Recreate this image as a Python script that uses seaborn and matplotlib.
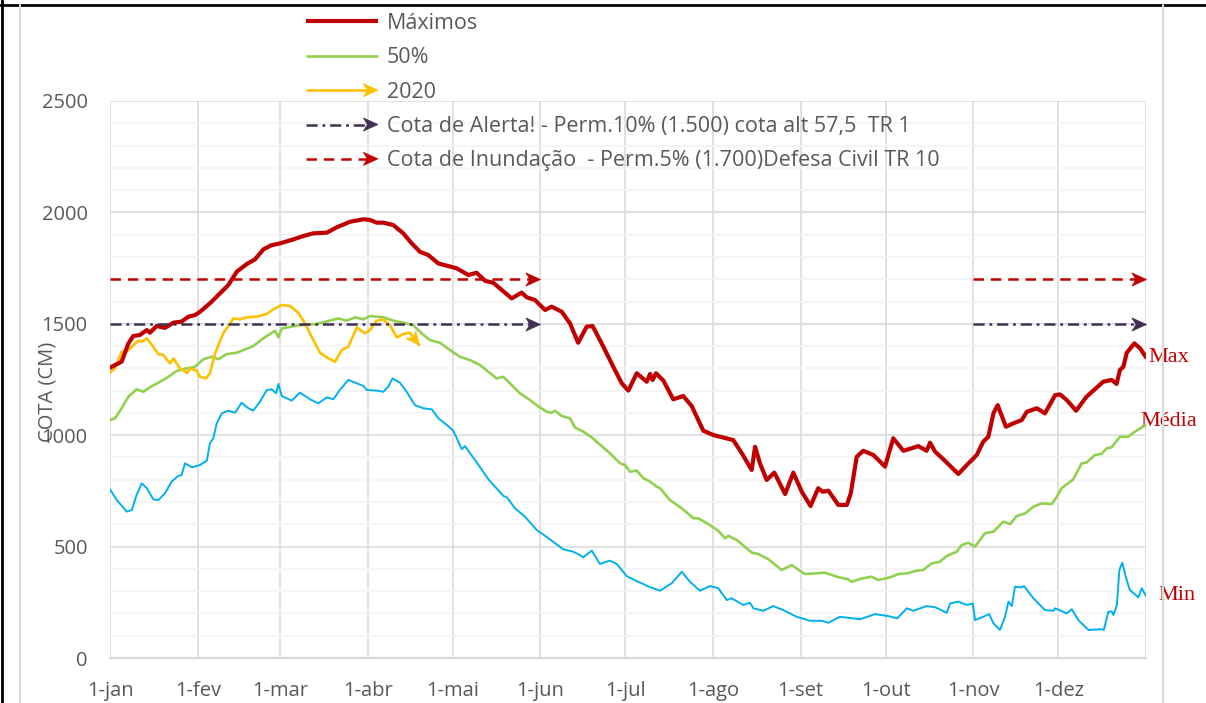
import numpy as np
import pandas as pd
import matplotlib
matplotlib.use("Agg")
import matplotlib.pyplot as plt
import seaborn as sns
from matplotlib.lines import Line2D
from matplotlib.path import Path
from matplotlib.markers import MarkerStyle
from matplotlib.transforms import Affine2D
from matplotlib.legend_handler import HandlerBase
from matplotlib.patches import Polygon

# ---------------- data ----------------
month_labels = ['1-jan', '1-fev', '1-mar', '1-abr', '1-mai', '1-jun',
                '1-jul', '1-ago', '1-set', '1-out', '1-nov', '1-dez']
month_days = [0, 31, 60, 91, 121, 152, 182, 213, 244, 274, 305, 335]
year_end = 366

max_days = [0, 4.1, 6.5, 8.2, 10.6, 13.0, 14.1, 16.5, 19.4, 22.4,
            25.3, 27.7, 30.0, 31.8, 35.3, 38.9, 41.8, 44.8, 48.3, 51.2,
            54.2, 57.1, 60.1, 64.8, 68.3, 71.8, 76.6, 80.1, 84.8, 89.5,
            91.9, 94.2, 96.6, 100.1, 103.6, 106.6, 109.5, 112.4, 116.0, 119.5,
            122.5, 126.6, 129.5, 132.5, 135.4, 138.4, 141.9, 145.4, 147.2, 150.1,
            153.7, 156.0, 159.6, 162.5, 165.4, 168.4, 170.5, 174.3, 177.8, 180.8,
            183.1, 186.1, 187.2, 189.6, 190.8, 191.7, 192.9, 195.5, 199.0, 202.5,
            205.5, 209.6, 213.1, 220.2, 223.2, 226.7, 227.9, 229.6, 232.0, 234.7,
            238.5, 241.4, 244.4, 247.5, 250.2, 251.8, 253.8, 257.3, 260.3, 261.7,
            263.8, 266.1, 269.7, 273.8, 276.7, 280.3, 285.6, 288.5, 289.7, 291.5,
            294.4, 299.7, 302.7, 306.2, 308.5, 310.3, 312.1, 313.6, 316.5, 319.1,
            322.1, 323.9, 327.4, 330.3, 333.9, 335.6, 338.0, 341.3, 345.0, 350.9,
            353.9, 355.6, 356.8, 358.0, 359.2, 361.9, 363.9, 366.0]
max_vals = [1303, 1330, 1412, 1445, 1450, 1472, 1460, 1490, 1482, 1505,
            1510, 1532, 1539, 1554, 1592, 1637, 1674, 1734, 1768, 1789,
            1834, 1853, 1861, 1879, 1894, 1906, 1909, 1933, 1958, 1969,
            1966, 1954, 1954, 1943, 1906, 1861, 1823, 1809, 1771, 1759,
            1749, 1719, 1729, 1693, 1684, 1652, 1614, 1640, 1619, 1607,
            1562, 1577, 1554, 1502, 1415, 1487, 1490, 1397, 1307, 1233,
            1200, 1278, 1266, 1240, 1275, 1248, 1278, 1245, 1161, 1176,
            1131, 1020, 1001, 978, 919, 844, 948, 874, 799, 832,
            736, 832, 746, 682, 762, 746, 751, 687, 687, 739,
            903, 930, 911, 859, 986, 930, 951, 930, 966, 926,
            892, 826, 866, 911, 971, 993, 1098, 1135, 1038, 1053,
            1068, 1105, 1121, 1098, 1180, 1183, 1158, 1110, 1173, 1240,
            1248, 1230, 1293, 1307, 1370, 1412, 1390, 1350]

p50_days = [0, 1.8, 4.1, 6.5, 9.4, 11.8, 14.1, 17.7, 20.6, 23.6,
            27.1, 30.0, 33.0, 35.9, 38.3, 41.2, 44.8, 50.6, 54.2, 58.3,
            59.5, 60.7, 67.1, 73.0, 80.7, 83.6, 86.6, 89.5, 91.9, 96.6,
            100.1, 103.6, 107.1, 110.1, 113.0, 116.6, 120.1, 123.6, 127.2, 130.7,
            133.6, 136.6, 138.9, 141.3, 144.8, 148.4, 150.7, 154.3, 156.0, 157.2,
            159.6, 162.5, 164.3, 167.2, 170.2, 173.7, 176.6, 180.2, 181.9, 183.7,
            186.1, 188.4, 190.8, 193.1, 194.3, 197.8, 202.0, 206.1, 207.8, 211.4,
            214.9, 217.3, 218.4, 221.4, 226.7, 229.0, 232.6, 237.3, 240.8, 245.5,
            249.7, 252.6, 256.7, 260.8, 262.0, 265.6, 269.1, 271.4, 275.6, 278.5,
            281.5, 285.0, 287.3, 290.3, 293.2, 295.6, 299.1, 300.9, 303.2, 305.6,
            309.1, 312.1, 315.6, 318.0, 320.3, 323.3, 326.2, 329.1, 332.7, 334.5,
            336.2, 340.3, 343.3, 345.0, 347.9, 350.3, 352.1, 353.9, 356.8, 359.7,
            361.5, 364.5, 366.0]
p50_vals = [1068, 1076, 1121, 1173, 1206, 1195, 1215, 1240, 1262, 1289,
            1300, 1307, 1341, 1352, 1341, 1364, 1370, 1400, 1435, 1469,
            1439, 1479, 1494, 1499, 1524, 1514, 1529, 1520, 1535, 1529,
            1514, 1505, 1494, 1457, 1427, 1415, 1382, 1352, 1337, 1315,
            1285, 1255, 1262, 1233, 1188, 1158, 1135, 1105, 1101, 1110,
            1086, 1076, 1034, 1016, 990, 951, 919, 874, 866, 836,
            841, 807, 792, 769, 762, 709, 672, 627, 627, 601,
            571, 537, 548, 530, 473, 467, 443, 395, 417, 377,
            380, 383, 365, 353, 342, 357, 365, 350, 362, 377,
            380, 392, 395, 425, 432, 458, 477, 507, 517, 500,
            560, 567, 612, 601, 637, 649, 679, 694, 691, 724,
            762, 802, 874, 877, 911, 916, 941, 946, 993, 993,
            1011, 1035, 1045]

y2020_days = [0, 1.8, 4.1, 5.9, 7.7, 10.0, 11.2, 13.0, 14.8, 17.1,
              18.8, 21.2, 22.4, 24.7, 27.3, 28.5, 30.6, 31.8, 33.9, 35.3,
              37.1, 40.0, 43.6, 45.9, 48.3, 51.8, 55.4, 57.7, 60.7, 63.6,
              66.5, 68.9, 71.8, 74.2, 77.1, 79.5, 81.9, 84.2, 87.2, 90.1,
              91.9, 94.2, 96.6, 98.9, 101.3, 103.6, 106.0, 107.1, 109.2]
y2020_vals = [1280, 1300, 1375, 1375, 1397, 1424, 1420, 1435, 1405, 1364,
              1360, 1322, 1345, 1300, 1280, 1300, 1289, 1262, 1255, 1278,
              1367, 1457, 1524, 1520, 1529, 1532, 1544, 1565, 1584, 1580,
              1550, 1502, 1427, 1370, 1345, 1330, 1382, 1397, 1484, 1457,
              1472, 1514, 1520, 1494, 1439, 1454, 1460, 1439, 1405]

min_days = [0, 2.4, 5.9, 7.7, 9.4, 11.2, 13.0, 15.3, 17.1, 19.4,
            21.8, 24.1, 25.3, 26.5, 28.9, 31.8, 34.2, 35.3, 36.5, 37.7,
            39.5, 41.8, 44.2, 46.5, 48.9, 50.6, 53.0, 55.4, 57.1, 58.7,
            59.5, 60.7, 64.2, 67.1, 70.7, 73.6, 76.6, 78.9, 81.2, 84.2,
            87.2, 89.5, 90.7, 94.2, 96.6, 98.3, 99.8, 102.4, 104.8, 107.7,
            110.7, 113.7, 116.0, 119.0, 121.3, 124.3, 125.4, 129.6, 133.7, 137.3,
            139.0, 140.2, 143.1, 146.6, 150.8, 155.4, 160.1, 163.7, 166.0, 167.2,
            170.2, 173.1, 176.6, 179.0, 182.5, 186.1, 190.8, 194.3, 198.4, 202.0,
            204.9, 208.4, 212.0, 214.9, 217.9, 219.6, 223.7, 226.1, 227.3, 230.8,
            234.3, 237.9, 242.6, 247.3, 251.4, 253.8, 257.9, 265.0, 270.3, 275.0,
            278.1, 281.5, 283.8, 286.2, 288.5, 291.5, 295.6, 296.8, 299.7, 302.7,
            304.8, 305.6, 308.5, 310.6, 312.1, 314.4, 316.2, 317.4, 318.6, 319.7,
            322.1, 322.9, 326.2, 330.3, 333.3, 333.9, 338.0, 339.8, 342.1, 345.7,
            350.3, 351.1, 352.7, 353.9, 354.5, 355.7, 356.6, 357.6, 358.9, 360.3,
            363.3, 364.5, 366.0]
min_vals = [757, 709, 657, 664, 732, 784, 762, 712, 709, 739,
            792, 817, 821, 874, 856, 866, 886, 964, 986, 1053,
            1098, 1110, 1101, 1146, 1121, 1110, 1151, 1203, 1206, 1188,
            1230, 1176, 1155, 1191, 1161, 1143, 1170, 1161, 1203, 1248,
            1233, 1221, 1203, 1200, 1195, 1218, 1255, 1236, 1195, 1135,
            1121, 1116, 1076, 1046, 1020, 937, 951, 877, 802, 751,
            727, 721, 672, 634, 574, 533, 488, 477, 462, 452,
            482, 422, 437, 422, 368, 345, 318, 302, 335, 387,
            342, 302, 323, 313, 260, 268, 238, 248, 223, 212,
            233, 215, 185, 167, 167, 158, 185, 174, 197, 188,
            178, 223, 212, 223, 233, 228, 203, 245, 253, 238,
            245, 170, 185, 197, 156, 126, 185, 253, 233, 320,
            317, 323, 268, 215, 212, 223, 200, 219, 170, 126,
            129, 126, 208, 208, 193, 238, 395, 428, 362, 305,
            272, 313, 278]

alert_value = 1500
flood_value = 1700
threshold_segments = [(0, 152), (305, 366)]

series_labels = ['Máximos', '50%', '2020',
                 'Cota de Alerta! - Perm.10% (1.500) cota alt 57,5  TR 1',
                 'Cota de Inundação  - Perm.5% (1.700)Defesa Civil TR 10']
end_labels = ['Max', 'Média', 'Min']

# ---------------- style ----------------
C_MAX = '#C00000'
C_P50 = '#92D050'
C_2020 = '#FFC000'
C_MIN = '#00B0F0'
C_ALERT = '#403152'
C_FLOOD = '#C00000'
TXT = '#595959'
GRID = '#D9D9D9'
GRID_MINOR = '#F2F2F2'

sns.set_style("white")
plt.rcParams['font.family'] = ['Open Sans', 'DejaVu Sans']
plt.rcParams['lines.scale_dashes'] = False

W, H = 1206, 703
fig = plt.figure(figsize=(W / 100, H / 100), dpi=100)
ax = fig.add_axes([110 / W, 1 - 658 / H, 1036 / W, 557 / H])

LW_MAX, LW_P50, LW_2020, LW_MIN, LW_THR = 3.0, 1.9, 1.9, 1.4, 1.8
DASH_FLOOD = (0, (7.5, 5.0))
DASH_ALERT = (0, (8.0, 3.5, 2.0, 3.5))

sns.lineplot(x=min_days, y=min_vals, ax=ax, color=C_MIN, lw=LW_MIN,
             sort=False, estimator=None, zorder=3)
sns.lineplot(x=p50_days, y=p50_vals, ax=ax, color=C_P50, lw=LW_P50,
             sort=False, estimator=None, zorder=4)
sns.lineplot(x=y2020_days, y=y2020_vals, ax=ax, color=C_2020, lw=LW_2020,
             sort=False, estimator=None, zorder=5)
sns.lineplot(x=max_days, y=max_vals, ax=ax, color=C_MAX, lw=LW_MAX,
             sort=False, estimator=None, zorder=6)

for (a, b) in threshold_segments:
    sns.lineplot(x=[a, b - 2.5], y=[flood_value, flood_value], ax=ax,
                 color=C_FLOOD, lw=LW_THR, linestyle=DASH_FLOOD, zorder=7)
    sns.lineplot(x=[a, b - 2.5], y=[alert_value, alert_value], ax=ax,
                 color=C_ALERT, lw=LW_THR, linestyle=DASH_ALERT, zorder=7)

ax.set_xlim(0, year_end)
ax.set_ylim(0, 2500)

# stealth arrow marker with tip at origin
arrow_path = Path([(0, 0), (-1, 0.45), (-0.72, 0), (-1, -0.45), (0, 0)],
                  [Path.MOVETO, Path.LINETO, Path.LINETO, Path.LINETO, Path.CLOSEPOLY])


def arrow_marker(angle):
    return MarkerStyle(arrow_path, transform=Affine2D().rotate_deg(angle))


for (a, b) in threshold_segments:
    ax.plot([b], [flood_value], linestyle='none', marker=arrow_marker(0),
            ms=21, color=C_FLOOD, mec=C_FLOOD, mew=0.5, clip_on=False, zorder=8)
    ax.plot([b], [alert_value], linestyle='none', marker=arrow_marker(0),
            ms=21, color=C_ALERT, mec=C_ALERT, mew=0.5, clip_on=False, zorder=8)

# arrow at the end of the 2020 series
p = ax.transData.transform([[y2020_days[-2], y2020_vals[-2]],
                            [y2020_days[-1], y2020_vals[-1]]])
ang = np.degrees(np.arctan2(p[1, 1] - p[0, 1], p[1, 0] - p[0, 0]))
ax.plot([y2020_days[-1]], [y2020_vals[-1]], linestyle='none',
        marker=arrow_marker(ang), ms=20, color=C_2020, mec=C_2020, mew=0.5,
        clip_on=False, zorder=8)

# ---------------- axes ----------------
ax.set_yticks(range(0, 2501, 500))
ax.set_yticks(range(0, 2501, 100), minor=True)
ax.set_xticks(month_days)
ax.set_xticklabels(month_labels)
ax.set_xticks([year_end], minor=True)
ax.grid(which='major', axis='both', color=GRID, lw=1.1)
ax.grid(which='minor', axis='y', color=GRID_MINOR, lw=1.1)
ax.grid(which='minor', axis='x', color=GRID, lw=1.1)
ax.set_axisbelow(True)
for s in ['top', 'left', 'right']:
    ax.spines[s].set_visible(False)
ax.spines['bottom'].set_color(GRID)
ax.spines['bottom'].set_linewidth(1.6)
ax.tick_params(axis='x', which='both', length=5, width=1.1, color=GRID,
               pad=11.5, labelsize=14.5, labelcolor=TXT)
ax.tick_params(axis='y', which='both', length=0, pad=16,
               labelsize=14.5, labelcolor=TXT)
ax.set_xlabel('')
ax.set_ylabel('')
fig.text(47 / W, 1 - 392 / H, 'COTA (CM)', rotation=90, ha='center',
         va='center', fontsize=14.5, color=TXT)

# end labels
serif = ['Liberation Serif', 'DejaVu Serif']
ax.annotate(end_labels[0], xy=(max_days[-1], max_vals[-1]), xytext=(2, 0),
            textcoords='offset pixels', ha='left', va='center', family=serif,
            fontsize=16, color=C_MAX, annotation_clip=False)
ax.annotate(end_labels[1], xy=(p50_days[-1], p50_vals[-1]), xytext=(-6, 4),
            textcoords='offset pixels', ha='left', va='center', family=serif,
            fontsize=16, color=C_MAX, annotation_clip=False)
ax.annotate(end_labels[2], xy=(min_days[-1], min_vals[-1]), xytext=(12, 1),
            textcoords='offset pixels', ha='left', va='center', family=serif,
            fontsize=16, color=C_MAX, annotation_clip=False)


# ---------------- legend ----------------
class ArrowHandler(HandlerBase):
    def __init__(self, color, lw, ls, arrow):
        super().__init__()
        self.color, self.lw, self.ls, self.arrow = color, lw, ls, arrow

    def create_artists(self, legend, orig_handle, xdescent, ydescent, width,
                       height, fontsize, trans):
        y = height / 2.0 - ydescent
        x0, x1 = -xdescent, width - xdescent
        L, Wd = 10.5, 9.5
        end = x1 - 0.7 * L if self.arrow else x1
        line = Line2D([x0, end], [y, y], color=self.color, lw=self.lw,
                      linestyle=self.ls, solid_capstyle='butt',
                      dash_capstyle='butt', transform=trans)
        arts = [line]
        if self.arrow:
            verts = [(x1, y), (x1 - L, y + Wd / 2), (x1 - 0.72 * L, y),
                     (x1 - L, y - Wd / 2)]
            arts.append(Polygon(verts, closed=True, facecolor=self.color,
                                edgecolor=self.color, lw=0.5, transform=trans))
        return arts


LEG_FS = 15.5
specs = [(C_MAX, LW_MAX, '-', False), (C_P50, LW_P50, '-', False),
         (C_2020, LW_2020, '-', True), (C_ALERT, LW_THR, DASH_ALERT, True),
         (C_FLOOD, LW_THR, DASH_FLOOD, True)]
handles = [Line2D([], [], color=c) for c, _, _, _ in specs]
hmap = {h: ArrowHandler(*s) for h, s in zip(handles, specs)}
fig.legend(handles, series_labels, handler_map=hmap, loc='upper left',
           bbox_to_anchor=(306 / W, 1 - 13 / H), frameon=False,
           fontsize=LEG_FS, labelcolor=TXT, handlelength=51.8 / LEG_FS,
           handletextpad=6.5 / LEG_FS, labelspacing=0.62, borderpad=0,
           borderaxespad=0)

# ---------------- frame lines ----------------
fig.add_artist(Line2D([0, 1], [1 - 4.5 / H] * 2, transform=fig.transFigure,
                      color='black', lw=2))
fig.add_artist(Line2D([2 / W] * 2, [0, 1], transform=fig.transFigure,
                      color='black', lw=2))
fig.add_artist(Line2D([20 / W] * 2, [0, 1 - 5 / H], transform=fig.transFigure,
                      color=GRID, lw=1.5))
fig.add_artist(Line2D([1163 / W] * 2, [0, 1 - 5 / H], transform=fig.transFigure,
                      color=GRID, lw=1.5))

fig.savefig('out.png', dpi=100)
